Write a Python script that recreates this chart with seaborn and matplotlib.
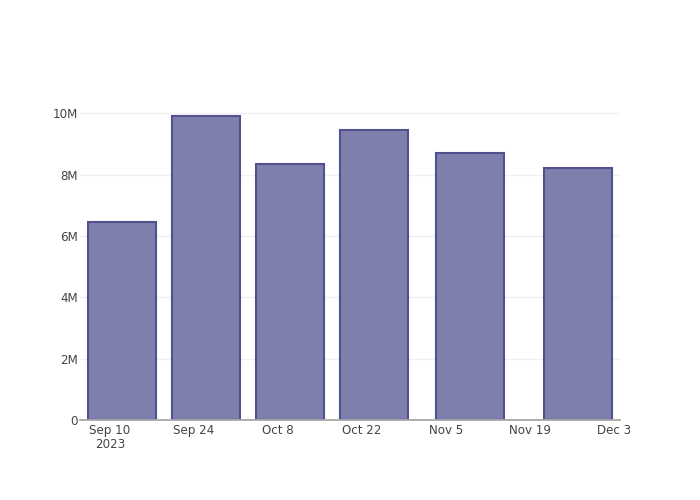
import matplotlib
matplotlib.use("Agg")
import matplotlib.pyplot as plt
from matplotlib.ticker import FuncFormatter
import pandas as pd
import seaborn as sns

# data
dates = ["2023-09-12", "2023-09-26", "2023-10-10", "2023-10-24", "2023-11-09", "2023-11-27"]
values = [6.45e6, 9.92e6, 8.35e6, 9.45e6, 8.70e6, 8.22e6]
tick_dates = ["2023-09-10", "2023-09-24", "2023-10-08", "2023-10-22", "2023-11-05", "2023-11-19", "2023-12-03"]
tick_labels = ["Sep 10\n2023", "Sep 24", "Oct 8", "Oct 22", "Nov 5", "Nov 19", "Dec 3"]
y_ticks = [0, 2e6, 4e6, 6e6, 8e6, 10e6]

df = pd.DataFrame({"date": pd.to_datetime(dates), "value": values})

sns.set_theme(style="white")
plt.rcParams["font.family"] = ["DejaVu Sans"]

fig = plt.figure(figsize=(7, 5), dpi=100)
ax = fig.add_axes([80 / 700, 80 / 500, 540 / 700, 320 / 500])

bar_width = 11.2  # days, like plotly's 0.8 * min gap
ax.bar(df["date"], df["value"], width=bar_width, color="#7f7fae",
       edgecolor="#52518d", linewidth=1.5, zorder=3)

ax.set_xlim(pd.Timestamp("2023-09-05"), pd.Timestamp("2023-12-04"))
ax.set_ylim(0, 10.44e6)

ax.set_xticks(pd.to_datetime(tick_dates))
ax.set_xticklabels(tick_labels, linespacing=1.05)
ax.set_yticks(y_ticks)
ax.yaxis.set_major_formatter(FuncFormatter(lambda v, p: "0" if v == 0 else f"{v / 1e6:g}M"))

ax.grid(axis="y", color="#f0f0f0", linewidth=1, zorder=0)
ax.grid(axis="x", visible=False)
for side in ["top", "right", "left"]:
    ax.spines[side].set_visible(False)
ax.spines["bottom"].set_color("#a8a8a8")
ax.spines["bottom"].set_linewidth(1.3)
ax.spines["bottom"].set_zorder(4)

ax.tick_params(axis="both", colors="#444444", labelsize=8.6, length=0)
ax.tick_params(axis="x", pad=3)
ax.tick_params(axis="y", pad=1.5)
ax.set_xlabel("")
ax.set_ylabel("")

fig.savefig("out.png", dpi=100)
